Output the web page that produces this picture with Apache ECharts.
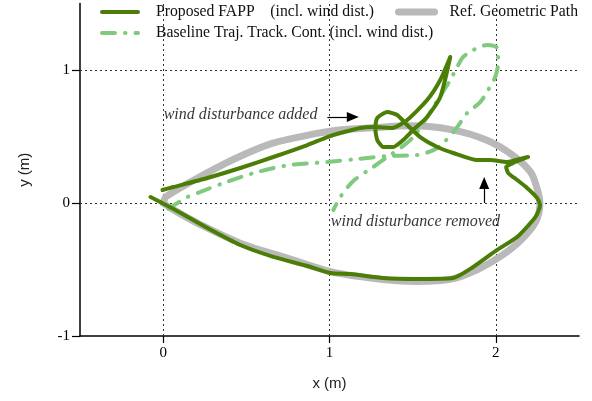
<!DOCTYPE html>
<html><head><meta charset="utf-8">
<script src="https://cdn.jsdelivr.net/npm/echarts@6/dist/echarts.min.js"></script>
<style>html,body{margin:0;padding:0;background:#fff}#c{width:592px;height:401px}</style>
</head><body><div id="c"></div>
<script>
// Reference geometric path (gray)
const refX = [0, 0.02, 0.27, 0.46, 0.66, 0.87, 1.07, 1.25, 1.49, 1.74, 1.95, 2.10, 2.21, 2.25, 2.265, 2.24, 2.15, 2.03, 1.89, 1.74, 1.53, 1.32, 1.02, 0.76, 0.46, 0.22, 0.06, 0];
const refY = [0, 0.05, 0.23, 0.35, 0.45, 0.51, 0.55, 0.565, 0.58, 0.55, 0.47, 0.36, 0.23, 0.10, 0, -0.14, -0.28, -0.40, -0.50, -0.57, -0.59, -0.575, -0.52, -0.42, -0.30, -0.16, -0.05, 0];

// Proposed FAPP trajectory (dark green)
const fappX = [-0.004, 0.062, 0.266, 0.464, 0.662, 0.867, 0.987, 1.065, 1.185, 1.263, 1.377, 1.467, 1.587, 1.666, 1.726,
  1.666, 1.587, 1.503, 1.443, 1.383, 1.323, 1.287, 1.275, 1.287, 1.347, 1.407, 1.467, 1.545, 1.648, 1.744, 1.888, 1.966, 2.068, 2.146, 2.194,
  2.104, 2.062, 2.074, 2.128, 2.188, 2.248, 2.266, 2.248, 2.224, 2.128, 2.008, 1.864, 1.744, 1.528, 1.323, 1.125, 1.005, 0.867, 0.662, 0.464, 0.266, 0.062, -0.076];
const fappY = [0.098, 0.120, 0.188, 0.263, 0.346, 0.436, 0.496, 0.526, 0.564, 0.571, 0.564, 0.624, 0.774, 0.925, 1.098,
  0.797, 0.647, 0.549, 0.474, 0.421, 0.421, 0.474, 0.564, 0.639, 0.684, 0.662, 0.586, 0.496, 0.421, 0.376, 0.323, 0.323, 0.308, 0.331, 0.346,
  0.301, 0.271, 0.226, 0.173, 0.113, 0.038, -0.015, -0.083, -0.128, -0.256, -0.353, -0.481, -0.564, -0.571, -0.564, -0.534, -0.526, -0.474, -0.405, -0.316, -0.188, -0.045, 0.045];

// Baseline trajectory tracking controller (light green dash-dot)
const baseX = [0.032, 0.086, 0.146, 0.224, 0.362, 0.566, 0.764, 0.987, 1.167, 1.347, 1.528, 1.624, 1.684, 1.768, 1.828, 1.906, 1.954, 1.996, 2.014, 2.008, 1.948, 1.864, 1.804, 1.768, 1.726, 1.678, 1.624, 1.564, 1.503, 1.443, 1.365, 1.263, 1.143, 1.065, 1.023];
const baseY = [-0.045, 0, 0.045, 0.083, 0.150, 0.233, 0.286, 0.308, 0.331, 0.353, 0.361, 0.398, 0.451, 0.571, 0.677, 0.759, 0.850, 0.947, 1.053, 1.165, 1.188, 1.150, 1.098, 1.023, 0.925, 0.827, 0.722, 0.602, 0.496, 0.429, 0.361, 0.271, 0.165, 0.045, -0.053];

const xTicks = [0, 1, 2];
const yTicks = [-1, 0, 1];
const seriesNames = ['Proposed FAPP    (incl. wind dist.)', 'Ref. Geometric Path', 'Baseline Traj. Track. Cont. (incl. wind dist.)'];
const notes = ['wind disturbance added', 'wind disturbance removed'];
const noteX = [0.0, 1.005];
const noteY = [0.662, -0.143];
const arrowFromX = [0.987, 1.93];
const arrowFromY = [0.647, 0.0];
const arrowToX = [1.14, 1.93];
const arrowToY = [0.647, 0.15];

const zip = (a, b) => a.map((v, i) => [v, b[i]]);
const chart = echarts.init(document.getElementById('c'), null, {renderer: 'canvas'});
const serif = 'Liberation Serif';
const legendCommon = {
  itemWidth: 36, itemHeight: 14, padding: 0, selectedMode: false,
  itemStyle: {opacity: 0},
  textStyle: {fontFamily: serif, fontSize: 15.7, color: '#111', padding: [0, 0, 0, 13]}
};
chart.setOption({
  animation: false,
  grid: {left: 80, right: 13, top: 3.5, bottom: 65},
  legend: [
    Object.assign({}, legendCommon, {data: [seriesNames[0]], left: 100, top: 4, lineStyle: {width: 4}}),
    Object.assign({}, legendCommon, {data: [seriesNames[1]], left: 395, top: 4, lineStyle: {width: 7},
      textStyle: Object.assign({}, legendCommon.textStyle, {padding: [0, 0, 0, 10]})}),
    Object.assign({}, legendCommon, {data: [seriesNames[2]], left: 100, top: 25, lineStyle: {width: 4}})
  ],
  xAxis: {
    type: 'value', min: -0.5, max: 2.5,
    name: 'x (m)', nameLocation: 'middle', nameGap: 40,
    nameTextStyle: {fontFamily: 'Liberation Sans', fontSize: 15, color: '#222'},
    axisLine: {onZero: false, lineStyle: {color: '#000', width: 1.5}},
    axisTick: {show: true, length: 7, customValues: xTicks, lineStyle: {color: '#000', width: 1.2}},
    axisLabel: {customValues: xTicks, fontFamily: serif, fontSize: 15, color: '#000', margin: 10},
    splitLine: {show: false}
  },
  yAxis: {
    type: 'value', min: -1, max: 1.5,
    name: 'y (m)', nameLocation: 'middle', nameGap: 48,
    nameTextStyle: {fontFamily: 'Liberation Sans', fontSize: 15, color: '#222'},
    axisLine: {onZero: false, lineStyle: {color: '#000', width: 1.5}},
    axisTick: {show: true, length: 8, customValues: yTicks, lineStyle: {color: '#000', width: 1.2}},
    axisLabel: {customValues: yTicks, fontFamily: serif, fontSize: 15, color: '#000', margin: 10},
    splitLine: {show: false}
  },
  series: [
    {
      name: seriesNames[1], type: 'line', z: 2, data: zip(refX, refY), smooth: 0.3,
      symbol: 'none', lineStyle: {color: '#b9b9b9', width: 7, cap: 'round', join: 'round'},
      itemStyle: {color: '#b9b9b9'},
      markLine: {
        silent: true, z: 1, symbol: 'none', label: {show: false},
        lineStyle: {color: '#333', width: 1, type: [2, 3]},
        data: xTicks.map(v => ({xAxis: v})).concat(yTicks.filter(v => v > -1).map(v => ({yAxis: v})))
      }
    },
    {
      name: seriesNames[2], type: 'line', z: 3, data: zip(baseX, baseY), smooth: 0.3,
      symbol: 'none', lineStyle: {color: '#7fca7f', width: 4, type: [13, 10, 0.5, 10], cap: 'round'},
      itemStyle: {color: '#7fca7f'}
    },
    {
      name: seriesNames[0], type: 'line', z: 4, data: zip(fappX, fappY), smooth: 0.2,
      symbol: 'none', lineStyle: {color: '#4b7e06', width: 4, cap: 'round', join: 'round'},
      itemStyle: {color: '#4b7e06'}
    },
    {
      type: 'scatter', z: 5, symbolSize: 1, itemStyle: {color: 'transparent'},
      data: notes.map((t, i) => ({name: t, value: [noteX[i], noteY[i]]})),
      label: {show: true, position: 'right', distance: 0, formatter: '{b}', fontFamily: serif, fontStyle: 'italic', fontSize: 16, color: '#000'},
      markLine: {
        silent: true, z: 5, label: {show: false}, symbol: ['none', 'triangle'], symbolSize: [10, 12],
        lineStyle: {color: '#000', width: 1.2, type: 'solid'},
        data: arrowFromX.map((x, i) => [{coord: [x, arrowFromY[i]]}, {coord: [arrowToX[i], arrowToY[i]]}])
      }
    }
  ]
});
</script></body></html>
